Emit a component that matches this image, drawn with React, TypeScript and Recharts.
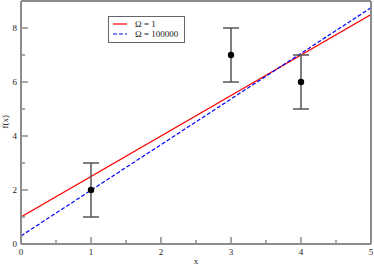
import React from 'react';
import {
    ComposedChart,
    Line,
    Scatter,
    ErrorBar,
    XAxis,
    YAxis,
    Label
} from 'recharts';

// measured points with symmetric error bars
const pointX = [1, 3, 4];
const pointY = [2, 7, 6];
const pointErr = [1, 1, 1];

// fitted lines, one per Omega value
const lineX = [0, 5];
const fitOmega1 = [1, 8.5];
const fitOmega100000 = [0.3, 8.75];

const seriesNames = ['\u03A9 = 1', '\u03A9 = 100000'];
const seriesColors = ['#ff0000', '#0000ff'];

const xTicks = [0, 0.5, 1, 1.5, 2, 2.5, 3, 3.5, 4, 4.5, 5];
const yTicks = [0, 1, 2, 3, 4, 5, 6, 7, 8, 9];

const points = pointX.map((x, i) => ({ x, y: pointY[i], e: pointErr[i] }));
const red = lineX.map((x, i) => ({ x, y: fitOmega1[i] }));
const blue = lineX.map((x, i) => ({ x, y: fitOmega100000[i] }));

const font = 'Liberation Serif, Times New Roman, serif';
const axisColor = '#8c8c8c';

// ticks point inward; long at labelled values, short in between
function makeTick(side: 'bottom' | 'top' | 'left' | 'right', showLabel: boolean) {
    return (props: any) => {
        const { x, y, payload } = props;
        const v = payload.value;
        const major = side === 'bottom' || side === 'top' ? Number.isInteger(v) : v % 2 === 0;
        const len = major ? 7 : 4;
        let line;
        if (side === 'bottom') line = <line x1={x} x2={x} y1={y} y2={y - len} />;
        else if (side === 'top') line = <line x1={x} x2={x} y1={y} y2={y + len} />;
        else if (side === 'left') line = <line x1={x} x2={x + len} y1={y} y2={y} />;
        else line = <line x1={x} x2={x - len} y1={y} y2={y} />;
        return (
            <g>
                <g stroke={axisColor} strokeWidth={1.5}>{line}</g>
                {showLabel && major && side === 'bottom' && (
                    <text x={x} y={y + 11} textAnchor="middle" fontSize={9} fontFamily={font} fill="#222">{v}</text>
                )}
                {showLabel && major && side === 'left' && (
                    <text x={x - 4} y={y + 3} textAnchor="end" fontSize={9} fontFamily={font} fill="#222">{v}</text>
                )}
            </g>
        );
    };
}

export default function App() {
    return (
        <div style={{ position: 'absolute', left: 0, top: 0, width: 374, height: 265, background: '#fff' }}>
            <ComposedChart width={374} height={265} margin={{ top: 0, right: 0, bottom: 0, left: 0 }}>
                <XAxis
                    type="number"
                    dataKey="x"
                    domain={[0, 5]}
                    ticks={xTicks}
                    interval={0}
                    height={21}
                    tickSize={0}
                    tickMargin={0}
                    tickLine={false}
                    stroke={axisColor}
                    strokeWidth={2}
                    tick={makeTick('bottom', true)}
                    allowDataOverflow
                >
                    <Label value="x" position="insideBottom" offset={0} dy={-1} fontSize={9} fontFamily={font} fill="#222" />
                </XAxis>
                <XAxis
                    xAxisId="top"
                    orientation="top"
                    type="number"
                    domain={[0, 5]}
                    ticks={xTicks}
                    interval={0}
                    height={1}
                    tickSize={0}
                    tickMargin={0}
                    tickLine={false}
                    stroke={axisColor}
                    strokeWidth={2}
                    tick={makeTick('top', false)}
                />
                <YAxis
                    type="number"
                    dataKey="y"
                    domain={[0, 9]}
                    ticks={yTicks}
                    interval={0}
                    width={21}
                    tickSize={0}
                    tickMargin={0}
                    tickLine={false}
                    stroke={axisColor}
                    strokeWidth={2}
                    tick={makeTick('left', true)}
                    allowDataOverflow
                >
                    <Label value="f(x)" angle={-90} position="insideLeft" offset={0} dx={5} dy={6} fontSize={9} fontFamily={font} fill="#222" />
                </YAxis>
                <YAxis
                    yAxisId="right"
                    orientation="right"
                    type="number"
                    domain={[0, 9]}
                    ticks={yTicks}
                    interval={0}
                    width={3}
                    tickSize={0}
                    tickMargin={0}
                    tickLine={false}
                    stroke={axisColor}
                    strokeWidth={2}
                    tick={makeTick('right', false)}
                />
                <Line data={red} dataKey="y" stroke={seriesColors[0]} strokeWidth={1.2} dot={false} isAnimationActive={false} />
                <Line data={blue} dataKey="y" stroke={seriesColors[1]} strokeWidth={1.2} strokeDasharray="4 2" dot={false} isAnimationActive={false} />
                <Scatter data={points} dataKey="y" fill="#000" isAnimationActive={false}
                    shape={(p: any) => <circle cx={p.cx} cy={p.cy} r={3.2} fill="#000" />}>
                    <ErrorBar dataKey="e" direction="y" width={8} stroke="#555" strokeWidth={1.5} isAnimationActive={false} />
                </Scatter>
            </ComposedChart>
            <div style={{
                position: 'absolute', left: 108, top: 16, width: 75, height: 25,
                border: '1px solid #666', background: '#fff', fontFamily: font, fontSize: 9, color: '#222'
            }}>
                {seriesNames.map((name, i) => (
                    <div key={name} style={{ display: 'flex', alignItems: 'center', height: 10, marginTop: i === 0 ? 2 : 0 }}>
                        <svg width={24} height={10}>
                            <line x1={4} x2={18} y1={5} y2={5} stroke={seriesColors[i]} strokeWidth={1.2}
                                strokeDasharray={i === 1 ? '4 2' : undefined} />
                        </svg>
                        <span style={{ marginLeft: 2 }}>{name}</span>
                    </div>
                ))}
            </div>
        </div>
    );
}
